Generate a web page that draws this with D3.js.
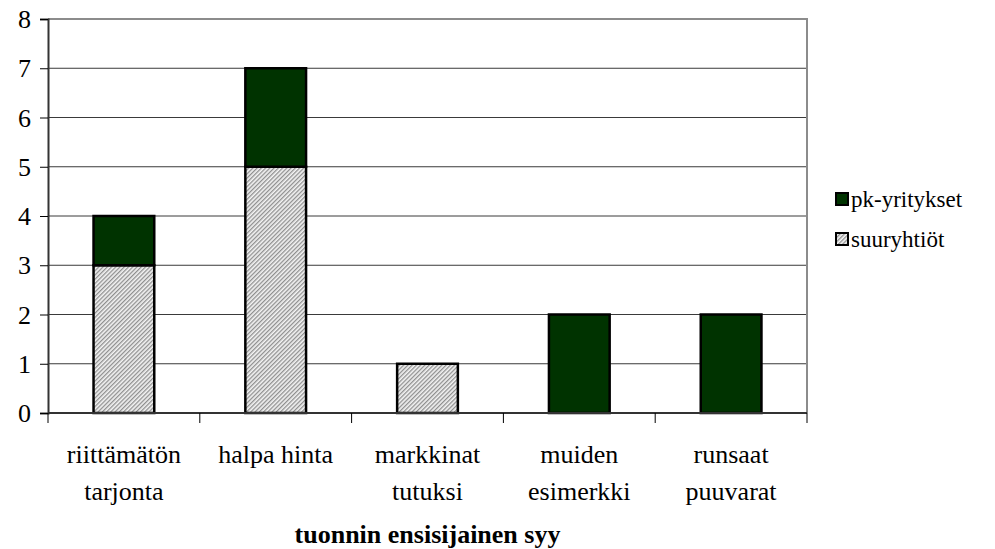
<!DOCTYPE html>
<html>
<head>
<meta charset="utf-8">
<script src="https://cdn.jsdelivr.net/npm/d3@7"></script>
</head>
<body style="margin:0">
<svg id="chart" width="995" height="549"></svg>
<script>
// Reasons for imports, split by company size
const categories = ["riittämätön\ntarjonta", "halpa hinta", "markkinat\ntutuksi", "muiden\nesimerkki", "runsaat\npuuvarat"];
const suuryhtiot = [3, 5, 1, 0, 0];
const pkYritykset = [1, 2, 0, 2, 2];
const seriesNames = ["suuryhtiöt", "pk-yritykset"];
const legendItems = ["pk-yritykset", "suuryhtiöt"];
const yTicks = [0, 1, 2, 3, 4, 5, 6, 7, 8];
const axisTitle = "tuonnin ensisijainen syy";

const serif = "'Liberation Serif'";

const svg = d3.select("#chart");
const plot = { left: 48, right: 807, top: 19, bottom: 413 };

// Diagonal hatch fill for the large-company series
const defs = svg.append("defs");
const pat = defs.append("pattern")
  .attr("id", "hatch")
  .attr("patternUnits", "userSpaceOnUse")
  .attr("width", 3).attr("height", 3)
  .attr("patternTransform", "rotate(45)");
pat.append("rect").attr("width", 3).attr("height", 3).attr("fill", "#f4f4f4");
pat.append("rect").attr("width", 1.3).attr("height", 3).attr("fill", "#8f8f8f");

const fills = { "suuryhtiöt": "url(#hatch)", "pk-yritykset": "#003300" };

const x = d3.scaleBand()
  .domain(d3.range(categories.length))
  .range([plot.left, plot.right])
  .paddingInner(0.6)
  .paddingOuter(0.3);

const y = d3.scaleLinear().domain([0, 8]).range([plot.bottom, plot.top]);

// Horizontal gridlines
svg.append("g")
  .selectAll("line")
  .data(yTicks.filter(t => t > 0 && t < 8))
  .join("line")
  .attr("x1", plot.left).attr("x2", plot.right)
  .attr("y1", d => y(d)).attr("y2", d => y(d))
  .attr("stroke", "#3a3a3a").attr("stroke-width", 1);

// Plot frame: top and right in gray
svg.append("path")
  .attr("d", `M${plot.left},${y(8)}H${plot.right}V${plot.bottom}`)
  .attr("fill", "none").attr("stroke", "#8c8c8c").attr("stroke-width", 2);

// Stacked bars
const table = categories.map((c, i) => ({ i, "suuryhtiöt": suuryhtiot[i], "pk-yritykset": pkYritykset[i] }));
const stacked = d3.stack().keys(seriesNames)(table);

svg.append("g")
  .selectAll("g")
  .data(stacked)
  .join("g")
  .attr("fill", d => fills[d.key])
  .selectAll("rect")
  .data(d => d.filter(s => s[1] - s[0] > 0))
  .join("rect")
  .attr("x", d => x(d.data.i))
  .attr("width", x.bandwidth())
  .attr("y", d => y(d[1]))
  .attr("height", d => y(d[0]) - y(d[1]))
  .attr("stroke", "#000")
  .attr("stroke-width", 2.5);

// Y axis: line and ticks from d3.axisLeft, labels as plain text
const yAxis = svg.append("g")
  .attr("transform", `translate(${plot.left},0)`)
  .call(d3.axisLeft(y).tickValues(yTicks).tickFormat("").tickSize(8));
yAxis.select(".domain").attr("stroke", "#333").attr("stroke-width", 2);
yAxis.selectAll(".tick line").attr("stroke", "#000").attr("stroke-width", 1);

svg.selectAll("text.ylab")
  .data(yTicks)
  .join("text")
  .attr("class", "ylab")
  .attr("x", plot.left - 17)
  .attr("y", d => y(d) + 9)
  .attr("text-anchor", "end")
  .attr("font-size", 26)
  .style("font-family", serif)
  .text(d => d);

// X axis baseline and category separators
const step = x.step();
const bounds = d3.range(categories.length + 1).map(k => plot.left + k * step);
svg.append("line")
  .attr("x1", plot.left).attr("x2", plot.right)
  .attr("y1", plot.bottom).attr("y2", plot.bottom)
  .attr("stroke", "#333").attr("stroke-width", 2);
svg.append("g")
  .selectAll("line")
  .data(bounds)
  .join("line")
  .attr("x1", d => d).attr("x2", d => d)
  .attr("y1", plot.bottom).attr("y2", plot.bottom + 10)
  .attr("stroke", "#000").attr("stroke-width", 1);

// Category labels, one text per line
const catLines = categories.flatMap((c, i) => c.split("\n").map((l, k) => ({ i, k, l })));
svg.selectAll("text.cat")
  .data(catLines)
  .join("text")
  .attr("class", "cat")
  .attr("x", d => x(d.i) + x.bandwidth() / 2)
  .attr("y", d => 463 + d.k * 37)
  .attr("text-anchor", "middle")
  .attr("font-size", 26)
  .style("font-family", serif)
  .text(d => d.l);

// Axis title
svg.append("text")
  .attr("x", (plot.left + plot.right) / 2)
  .attr("y", 543)
  .attr("text-anchor", "middle")
  .attr("font-size", 26)
  .attr("font-weight", "bold")
  .style("font-family", serif)
  .text(axisTitle);

// Legend
const li = svg.append("g")
  .attr("transform", "translate(836,193)")
  .selectAll("g")
  .data(legendItems)
  .join("g")
  .attr("transform", (d, k) => `translate(0,${k * 40})`);
li.append("rect")
  .attr("width", 12).attr("height", 12)
  .attr("fill", d => fills[d])
  .attr("stroke", "#000").attr("stroke-width", 2);
li.append("text")
  .attr("x", 15).attr("y", 14)
  .attr("font-size", 23)
  .style("font-family", serif)
  .text(d => d);
</script>
</body>
</html>
